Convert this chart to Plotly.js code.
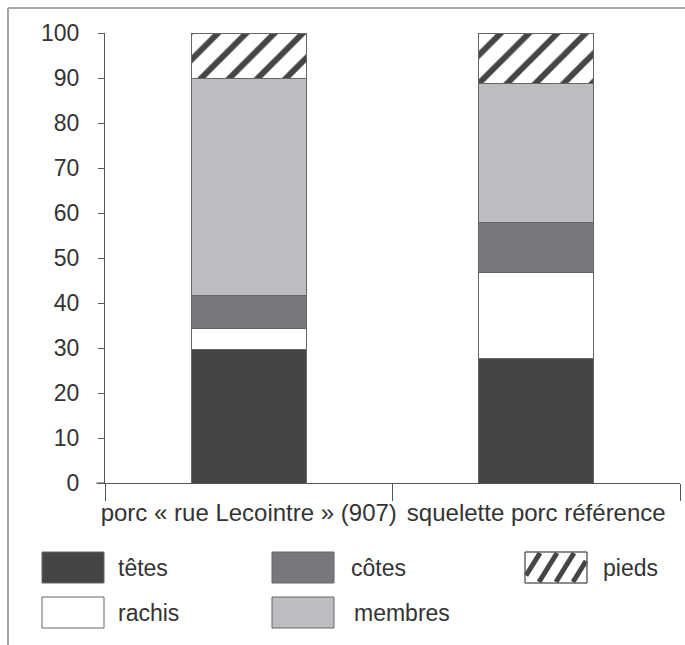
<!DOCTYPE html>
<html>
<head>
<meta charset="utf-8">
<script src="https://cdn.plot.ly/plotly-3.0.1.min.js"></script>
<style>html,body{margin:0;padding:0;background:#fff;}#chart{width:685px;height:645px;}</style>
</head>
<body>
<div id="chart"></div>
<script>
const categories = ["porc « rue Lecointre » (907)", "squelette porc référence"];
const seriesNames = ["têtes", "rachis", "côtes", "membres", "pieds"];
const tetes = [29.6, 27.6];
const rachis = [4.7, 19.1];
const cotes = [7.4, 11.3];
const membres = [48.3, 30.7];
const pieds = [10.0, 11.3];
const yTicks = [0, 10, 20, 30, 40, 50, 60, 70, 80, 90, 100];

const W = 685, H = 645;
const L = 105, R = 5, T = 33, B = 162;
const plotW = W - L - R, plotH = H - T - B;
const px = x => (x - L) / plotW;
const py = y => (H - B - y) / plotH;

const colors = {"têtes": "#454545", "rachis": "#ffffff", "côtes": "#77787b", "membres": "#bcbdc0", "pieds": "#ffffff"};
const outline = {color: "#666666", width: 1};
const values = [tetes, rachis, cotes, membres, pieds];

const traces = seriesNames.map((name, i) => {
  const marker = {color: colors[name], line: outline};
  if (name === "pieds") {
    marker.pattern = {shape: "/", fgcolor: "#454545", bgcolor: "#ffffff", size: 20, solidity: 0.3, fillmode: "replace"};
  }
  return {type: "bar", name: name, x: categories, y: values[i], marker: marker, width: 0.4, showlegend: false, hoverinfo: "skip"};
});

const shapes = [];
const annotations = [];
const fontFam = "Liberation Sans, Arial, sans-serif";
const textCol = "#333333";
const fs = 23;

// outer frame (left and top)
shapes.push({type: "line", xref: "paper", yref: "paper", x0: px(8), x1: px(8), y0: py(8), y1: py(650), line: {color: "#a6a6a6", width: 2}});
shapes.push({type: "line", xref: "paper", yref: "paper", x0: px(8), x1: px(690), y0: py(8), y1: py(8), line: {color: "#a6a6a6", width: 2}});
// x axis line extension to the left of y axis
shapes.push({type: "line", xref: "paper", yref: "paper", x0: px(96), x1: px(105), y0: py(483), y1: py(483), line: {color: "#555555", width: 1}});

// custom legend
const legendItems = [
  {name: "têtes", sx: 42, sy: 552, tx: 116},
  {name: "côtes", sx: 272, sy: 552, tx: 349},
  {name: "pieds", sx: 525, sy: 552, tx: 601},
  {name: "rachis", sx: 42, sy: 597, tx: 116},
  {name: "membres", sx: 272, sy: 597, tx: 352}
];
const sw = 62, sh = 31;
legendItems.forEach(it => {
  shapes.push({type: "rect", xref: "paper", yref: "paper", x0: px(it.sx), x1: px(it.sx + sw), y0: py(it.sy + sh), y1: py(it.sy),
    fillcolor: colors[it.name], line: {color: "#666666", width: 1}});
  if (it.name === "pieds") {
    const x0s = [it.sx - 20, it.sx - 3, it.sx + 14, it.sx + 31, it.sx + 48, it.sx + 65];
    const shift = 18;
    x0s.forEach(x0 => {
      let t0 = Math.max(0, (it.sx + 1 - x0) / shift), t1 = Math.min(1, (it.sx + sw - 1 - x0) / shift);
      if (t1 > t0) {
        const ya = it.sy + sh - 1 - t0 * (sh - 2), yb = it.sy + sh - 1 - t1 * (sh - 2);
        shapes.push({type: "line", xref: "paper", yref: "paper", x0: px(x0 + t0 * shift), x1: px(x0 + t1 * shift), y0: py(ya), y1: py(yb), line: {color: "#454545", width: 5}});
      }
    });
    shapes.push({type: "rect", xref: "paper", yref: "paper", x0: px(it.sx), x1: px(it.sx + sw), y0: py(it.sy + sh), y1: py(it.sy),
      fillcolor: "rgba(0,0,0,0)", line: {color: "#666666", width: 1}});
  }
  annotations.push({xref: "paper", yref: "paper", x: px(it.tx), y: py(it.sy + sh / 2), xanchor: "left", yanchor: "middle",
    text: it.name, showarrow: false, font: {family: fontFam, size: fs, color: textCol}});
});

const layout = {
  width: W, height: H,
  margin: {l: L, r: R, t: T, b: B, pad: 0},
  paper_bgcolor: "#ffffff", plot_bgcolor: "#ffffff",
  barmode: "stack",
  showlegend: false,
  font: {family: fontFam, size: fs, color: textCol},
  xaxis: {
    type: "category", showgrid: false, zeroline: false,
    showline: true, linecolor: "#555555", linewidth: 1,
    ticks: "outside", tickson: "boundaries", ticklen: 17, tickcolor: "#555555", tickwidth: 1,
    tickfont: {family: fontFam, size: 24, color: textCol},
    tickangle: 0,
    ticklabelstandoff: 8,
    range: [-0.5, 1.5]
  },
  yaxis: {
    range: [0, 100], tickvals: yTicks, ticktext: yTicks.map(String),
    showgrid: false, zeroline: false,
    showline: true, linecolor: "#555555", linewidth: 1,
    ticks: "outside", ticklen: 6, tickcolor: "#555555", tickwidth: 1,
    tickfont: {family: fontFam, size: fs, color: textCol},
    ticklabelstandoff: 14
  },
  shapes: shapes,
  annotations: annotations
};

Plotly.newPlot("chart", traces, layout, {displayModeBar: false, staticPlot: true});
</script>
</body>
</html>
